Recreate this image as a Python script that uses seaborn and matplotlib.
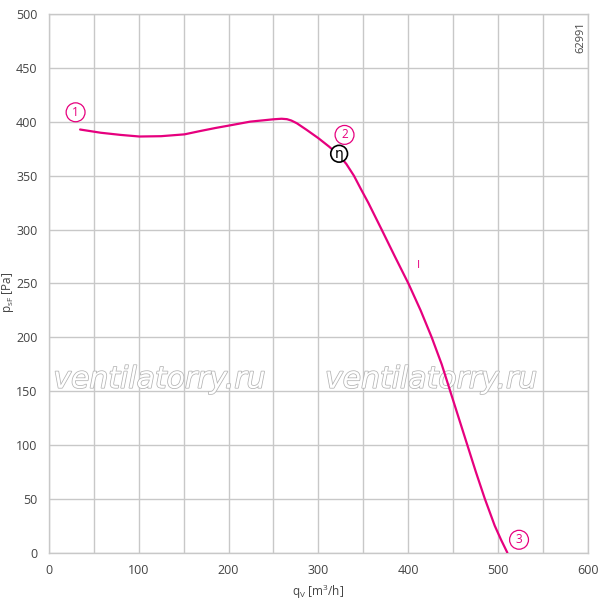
import numpy as np
import pandas as pd
import matplotlib
matplotlib.use("Agg")
import matplotlib.pyplot as plt
import matplotlib.patheffects as pe
import seaborn as sns

# Fan curve
q_v = [35, 58, 80, 101, 125, 151, 168, 186, 200, 224, 250, 259, 265, 270, 276,
       287, 300, 312, 323, 331, 339.5, 347, 355.4, 370.3, 385, 400, 413.6, 425.9,
       437, 446.5, 456, 465.5, 475, 485, 496, 503, 510]
p_sf = [393, 390, 388, 386.5, 386.8, 388.5, 391.5, 394.5, 396.6, 400.3, 402.5,
        403, 402.6, 401.3, 398.8, 392.6, 384.9, 377, 369, 361, 350, 338, 325,
        300, 275, 250, 225, 200, 175, 150, 125, 100, 75, 50, 25, 12, 0]

# Point labels along the curve
label_names = ["1", "2", "3"]
label_q = [30, 329, 523]
label_p = [409, 388, 12]
eta_q, eta_p = 323, 370.5
mark_q, mark_p = 411, 267
code_text = "62991"
watermark = "ventilatorry.ru"
watermark_q = [123, 425]
watermark_p = 161

df = pd.DataFrame({"q": q_v, "p": p_sf})

sns.set_style("whitegrid")
plt.rcParams["font.family"] = ["Open Sans", "DejaVu Sans"]

MAG = "#e6007e"
GRID = "#c8c8c8"
TXT = "#444444"

fig = plt.figure(figsize=(6.0, 6.01), dpi=100)
ax = fig.add_axes([0.081, 0.0804, 0.8995, 0.8958])

sns.lineplot(data=df, x="q", y="p", sort=False, estimator=None,
             color=MAG, linewidth=1.6, ax=ax, zorder=4)

ax.set_xlim(0, 600)
ax.set_ylim(0, 500)
ax.set_xticks(range(0, 601, 100))
ax.set_xticks(range(50, 600, 100), minor=True)
ax.set_yticks(range(0, 501, 50))
ax.grid(True, which="both", color=GRID, linewidth=1.0)
ax.set_axisbelow(True)
for s in ax.spines.values():
    s.set_color(GRID)
    s.set_linewidth(1.0)
ax.tick_params(axis="both", which="major", direction="out", length=5,
               width=1.0, color=GRID, labelsize=9, labelcolor=TXT, pad=3)
ax.tick_params(axis="x", which="minor", length=0)

ax.set_xlabel(r"q$_{\mathregular{V}}$ [m$^{\mathregular{3}}$/h]", fontsize=8.5,
              color=TXT, labelpad=4)
ax.set_ylabel(r"p$_{\mathregular{sF}}$ [Pa]", fontsize=8.5, color=TXT)
ax.yaxis.label.set_va("center")
ax.yaxis.set_label_coords(-0.075, 0.484)

# watermark
for wq in watermark_q:
    t = ax.text(wq, watermark_p, watermark, fontsize=21.5, style="italic",
                family="DejaVu Sans", color="white", ha="center", va="center",
                zorder=3)
    t.set_path_effects([pe.Stroke(linewidth=1.1, foreground="#b4b4b4"), pe.Normal()])

for name, lq, lp in zip(label_names, label_q, label_p):
    ax.text(lq, lp, name, fontsize=8.5, color=MAG, ha="center", va="center", zorder=5,
            bbox=dict(boxstyle="circle,pad=0.25", fc="white", ec=MAG, lw=0.9))

ax.text(eta_q, eta_p, "η", fontsize=10, color="black", ha="center", va="center",
        family="DejaVu Sans", zorder=6,
        bbox=dict(boxstyle="circle,pad=0.1", fc="white", ec="black", lw=1.2))

ax.text(mark_q, mark_p, "I", fontsize=8, color=MAG, ha="center", va="center", zorder=5)
ax.text(592, 479, code_text, fontsize=8, color=TXT, rotation=90,
        ha="center", va="center", zorder=5)

fig.savefig("out.png", dpi=100)
